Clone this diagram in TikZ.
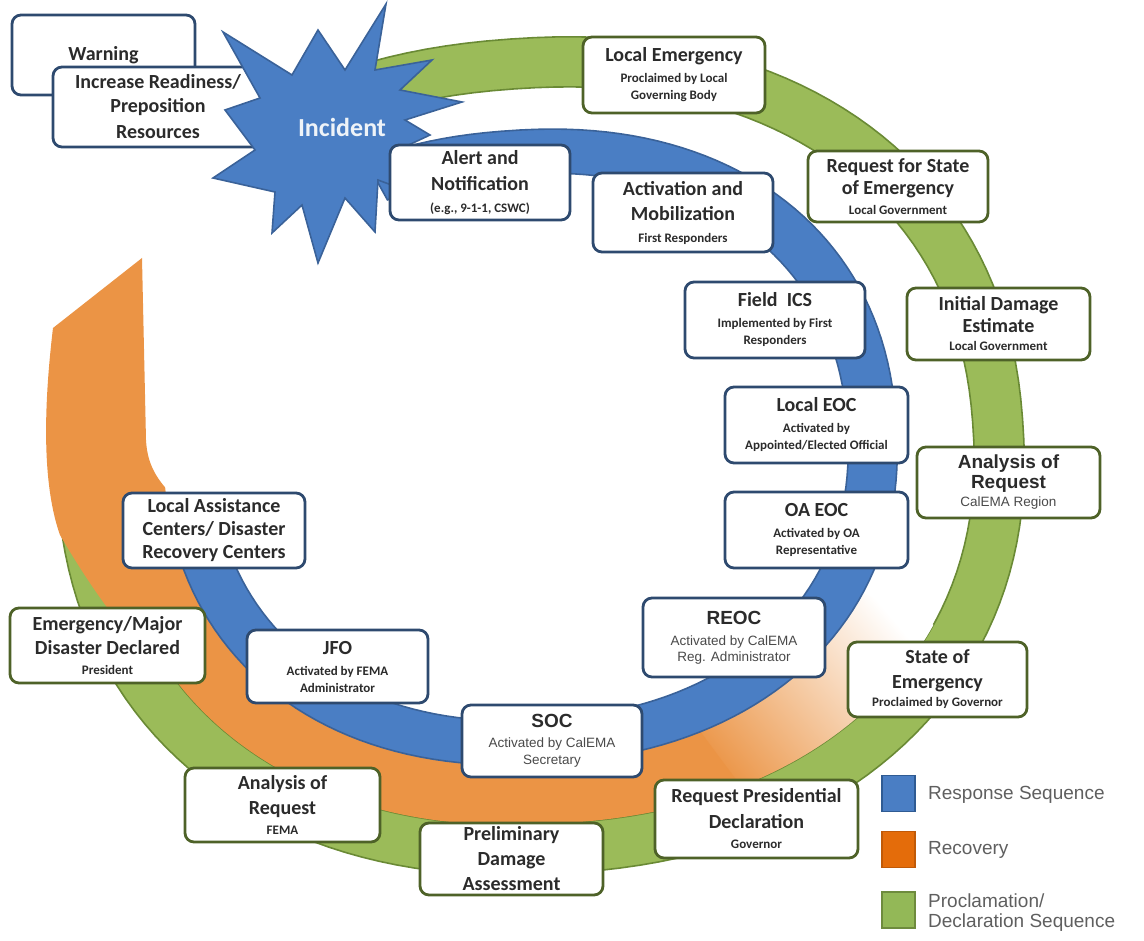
\documentclass[tikz,border=0pt]{standalone}
\usepackage{fontspec}
\setmainfont{Carlito}
\newfontfamily\arialf{Liberation Sans}

\definecolor{ringgreen}{HTML}{9BBB59}
\definecolor{ringgreenline}{HTML}{6A8A35}
\definecolor{ringblue}{HTML}{4A7EC4}
\definecolor{ringblueline}{HTML}{3A6299}
\definecolor{ringorange}{HTML}{EB9445}
\definecolor{boxblue}{HTML}{2E4A6F}
\definecolor{boxgreen}{HTML}{4E6228}
\definecolor{txt}{HTML}{2B2B2B}
\definecolor{subgray}{HTML}{4A4A4A}
\definecolor{legtxt}{HTML}{5F5F5F}
\definecolor{legorange}{HTML}{E46C0A}
\definecolor{legorangeline}{HTML}{C05A08}
\definecolor{leggreen}{HTML}{93B857}
\definecolor{leggreenline}{HTML}{6E8B3D}
\definecolor{legblueline}{HTML}{2F5B93}
\definecolor{inctext}{HTML}{EEF3F8}

% rounded-ellipse (superellipse) helpers for the rings
\def\supexpm{-0.09}
\pgfmathsetmacro\rotc{cos(-4)}
\pgfmathsetmacro\rots{sin(-4)}
\pgfmathdeclarefunction{supc}{1}{\begingroup\pgfmathparse{cos(#1)*pow(abs(cos(#1))+0.00001,\supexpm)}\pgfmathsmuggle\pgfmathresult\endgroup}
\pgfmathdeclarefunction{sups}{1}{\begingroup\pgfmathparse{sin(#1)*pow(abs(sin(#1))+0.00001,\supexpm)}\pgfmathsmuggle\pgfmathresult\endgroup}

\newcommand\setringpt[6]{%
  \pgfmathsetmacro\rpx{#2+(#4)*supc(#6)*\rotc-(#5)*sups(#6)*\rots}%
  \pgfmathsetmacro\rpy{#3+(#4)*supc(#6)*\rots+(#5)*sups(#6)*\rotc}%
  \coordinate (#1) at (\rpx,\rpy);}

\newcommand\boxsub[1]{{\fontsize{13}{15}\selectfont#1}}
\newcommand\boxsubA[1]{{\arialf\mdseries\fontsize{13.5}{15}\selectfont\color{subgray}#1}}
\newcommand\boxtitleA[1]{{\arialf\bfseries\fontsize{19}{24}\selectfont#1}}

\tikzset{
  ringarc0/.style n args={6}{insert path={plot[domain=#5:#6,samples=140,variable=\t]
    ({#1+(#3)*supc(\t)*\rotc-(#4)*sups(\t)*\rots},{#2+(#3)*supc(\t)*\rots+(#4)*sups(\t)*\rotc})}},
  ringarc/.style n args={6}{insert path={-- plot[domain=#5:#6,samples=140,variable=\t]
    ({#1+(#3)*supc(\t)*\rotc-(#4)*sups(\t)*\rots},{#2+(#3)*supc(\t)*\rots+(#4)*sups(\t)*\rotc})}},
  greenring/.style={fill=ringgreen, draw=ringgreenline, line width=1.6pt},
  bluering/.style={fill=ringblue, draw=ringblueline, line width=1.6pt},
  box/.style={draw, rounded corners=9pt, line width=2.8pt, fill=white, align=center,
    text=txt, inner sep=2pt, font=\fontsize{20}{24}\selectfont\bfseries},
  bbox/.style={box, draw=boxblue},
  gbox/.style={box, draw=boxgreen},
  legsq/.style={minimum width=33, minimum height=36, inner sep=0pt, line width=1.2pt},
  legtext/.style={font=\arialf\fontsize{19}{20}\selectfont, text=legtxt, align=left,
    inner sep=0pt, anchor=west},
}

\begin{document}
\begin{tikzpicture}[x=1pt,y=-1pt]
\useasboundingbox (0,0) rectangle (1144,941);

% proclamation / declaration ring
\path[greenring] [ringarc0={540}{456}{484}{418}{-105}{192}]
  [ringarc={540}{456}{434}{368}{192}{-105}] -- cycle;

% recovery band, fading out towards the right
\shade[top color=white, bottom color=ringorange, shading angle=-50]
  [ringarc0={530}{447}{367}{317}{72}{30}]
  [ringarc={540}{456}{434}{368}{30}{72}] -- cycle;
\setringpt{gi150}{540}{456}{434}{368}{150}
\fill[ringorange] (142,258) -- (53,328) .. controls (42,420) and (44,490) .. (60,535)
  .. controls (95,595) and (135,650) .. (gi150)
  [ringarc={540}{456}{434}{368}{150}{68}]
  [ringarc={530}{447}{367}{317}{68}{178}]
  .. controls (152,472) and (147,458) .. (146,440) -- cycle;

% response ring
\path[bluering] [ringarc0={530}{447}{367}{317}{-111}{172}]
  [ringarc={530}{447}{318}{273}{172}{-111}] -- cycle;

% pre-incident boxes
\node[bbox, minimum width=183, minimum height=80] (warn) at (103.5,55) {Warning};
\node[bbox, minimum width=210, minimum height=80] (incr) at (158,107)
  {Increase Readiness/\\Preposition\\[2pt]Resources};

% incident burst
\draw[fill=ringblue, draw=ringblueline, line width=1.6pt, line join=miter]
  (386,4) -- (375,70) -- (432,60) -- (400,90) -- (462,102) -- (405,120)
  -- (430,135) -- (398,150) -- (405,190) -- (378,180) -- (375,232) -- (345,198)
  -- (318,263) -- (302,205) -- (272,233) -- (275,192) -- (213,178) -- (255,150)
  -- (225,110) -- (260,98) -- (223,32) -- (292,75) -- (318,30) -- (345,70) -- cycle;
\node[text=inctext, font=\fontsize{26}{28}\selectfont\bfseries] (inc) at (342,127) {Incident};

% response sequence
\node[bbox, minimum width=180, minimum height=75] (alert) at (480,182.5)
  {Alert and\\[2pt]Notification\\[-2pt]\boxsub{(e.g., 9-1-1, CSWC)}};
\node[bbox, minimum width=180, minimum height=79] (actv) at (683,212.5)
  {Activation and\\[1pt]Mobilization\\[-2pt]\boxsub{First Responders}};
\node[bbox, minimum width=180, minimum height=76] (field) at (775,320)
  {Field\ \ ICS\\[-3pt]\boxsub{Implemented by First}\\[-7pt]\boxsub{Responders}};
\node[bbox, minimum width=183, minimum height=76] (leoc) at (816.5,425)
  {Local EOC\\[-3pt]\boxsub{Activated by}\\[-7pt]\boxsub{Appointed/Elected Official}};
\node[bbox, minimum width=183, minimum height=76] (oaeoc) at (816.5,530)
  {OA EOC\\[-3pt]\boxsub{Activated by OA}\\[-7pt]\boxsub{Representative}};
\node[bbox, minimum width=182, minimum height=79] (reoc) at (734,637.5)
  {\boxtitleA{REOC}\\[-3pt]\boxsubA{Activated by CalEMA}\\[-8pt]\boxsubA{Reg. Administrator}};
\node[bbox, minimum width=180, minimum height=72] (soc) at (552,741)
  {\boxtitleA{SOC}\\[-4pt]\boxsubA{Activated by CalEMA}\\[-7pt]\boxsubA{Secretary}};
\node[bbox, minimum width=181, minimum height=73] (jfo) at (337.5,666.5)
  {JFO\\[-3pt]\boxsub{Activated by FEMA}\\[-7pt]\boxsub{Administrator}};
\node[bbox, minimum width=182, minimum height=75] (lac) at (214,530.5)
  {Local Assistance\\[-1pt]Centers/ Disaster\\[-1pt]Recovery Centers};

% proclamation / declaration sequence
\node[gbox, minimum width=182, minimum height=76] (lem) at (674,75)
  {Local Emergency\\[-3pt]\boxsub{Proclaimed by Local}\\[-7pt]\boxsub{Governing Body}};
\node[gbox, minimum width=180, minimum height=71] (rsoe) at (898,186.5)
  {Request for State\\[-2pt]of Emergency\\[-4pt]\boxsub{Local Government}};
\node[gbox, minimum width=183, minimum height=72] (ide) at (998.5,324)
  {Initial Damage\\[-2pt]Estimate\\[-6pt]\boxsub{Local Government}};
\node[gbox, minimum width=183, minimum height=71] (aora) at (1008.5,482.5)
  {\boxtitleA{Analysis of}\\[-4pt]\boxtitleA{Request}\\[-6pt]\boxsubA{CalEMA Region}};
\node[gbox, minimum width=179, minimum height=75] (soe) at (937.5,679.5)
  {State of\\[1pt]Emergency\\[-6pt]\boxsub{Proclaimed by Governor}};
\node[gbox, minimum width=203, minimum height=78] (rpd) at (756.5,819)
  {Request Presidential\\[2pt]Declaration\\[-4pt]\boxsub{Governor}};
\node[gbox, minimum width=183, minimum height=72] (pda) at (511.5,859)
  {Preliminary\\[1pt]Damage\\[1pt]Assessment};
\node[gbox, minimum width=195, minimum height=74] (aorb) at (282.5,805)
  {Analysis of\\[1pt]Request\\[-4pt]\boxsub{FEMA}};
\node[gbox, minimum width=195, minimum height=75] (emd) at (107.5,645.5)
  {Emergency/Major\\Disaster Declared\\[-4pt]\boxsub{President}};

% legend
\node[legsq, fill=ringblue, draw=legblueline] (kblue) at (898.5,793.5) {};
\node[legtext] (kbluet) at (928,795) {Response Sequence};
\node[legsq, fill=legorange, draw=legorangeline] (korange) at (898.5,849.5) {};
\node[legtext] (koranget) at (928,850) {Recovery};
\node[legsq, fill=leggreen, draw=leggreenline] (kgreen) at (898.5,910) {};
\node[legtext] (kgreent) at (928,913) {Proclamation/\\Declaration Sequence};
\end{tikzpicture}
\end{document}
